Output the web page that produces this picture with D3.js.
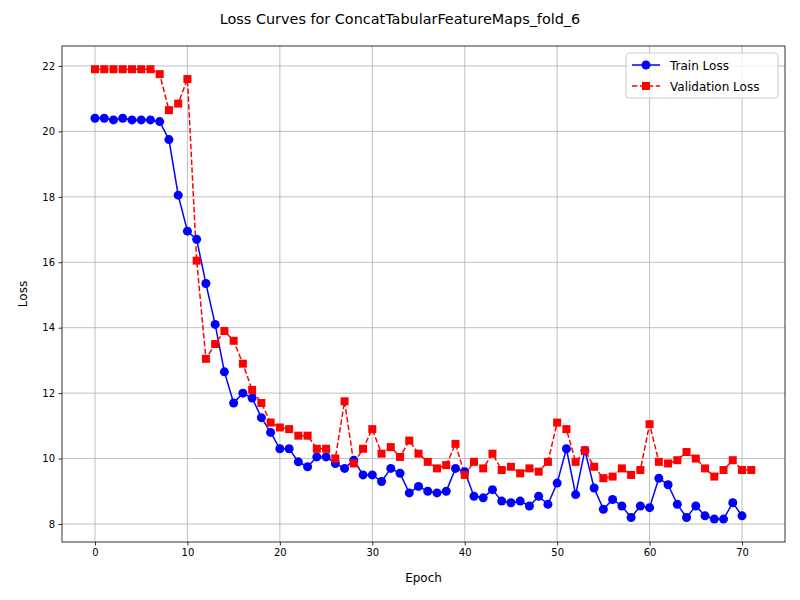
<!DOCTYPE html>
<html><head><meta charset="utf-8">
<script src="https://cdn.jsdelivr.net/npm/d3@7"></script>
<style>body{margin:0;background:#fff}text{font-family:"DejaVu Sans",sans-serif}</style>
</head><body><svg id="c" width="800" height="600"></svg>
<script>
const trainLoss=[20.4,20.4,20.35,20.4,20.35,20.35,20.35,20.3,19.75,18.05,16.95,16.7,15.35,14.1,12.65,11.7,12.0,11.85,11.25,10.8,10.3,10.3,9.9,9.75,10.05,10.05,9.85,9.7,9.95,9.5,9.5,9.3,9.7,9.55,8.95,9.15,9.0,8.95,9.0,9.7,9.6,8.85,8.8,9.05,8.7,8.65,8.7,8.55,8.85,8.6,9.25,10.3,8.9,10.25,9.1,8.45,8.75,8.55,8.2,8.55,8.5,9.4,9.2,8.6,8.2,8.55,8.25,8.15,8.15,8.65,8.25];
const valLoss=[21.9,21.9,21.9,21.9,21.9,21.9,21.9,21.75,20.65,20.85,21.6,16.05,13.05,13.5,13.9,13.6,12.9,12.1,11.7,11.1,10.95,10.9,10.7,10.7,10.3,10.3,10.0,11.75,9.85,10.3,10.9,10.15,10.35,10.05,10.55,10.15,9.9,9.7,9.8,10.45,9.5,9.9,9.7,10.15,9.65,9.75,9.55,9.7,9.6,9.9,11.1,10.9,9.9,10.25,9.75,9.4,9.45,9.7,9.5,9.65,11.05,9.9,9.85,9.95,10.2,10.0,9.7,9.45,9.65,9.95,9.65,9.65];
const xTicks=[0,10,20,30,40,50,60,70];
const yTicks=[8,10,12,14,16,18,20,22];
const L=62,R=785,T=46,B=542;
const svg=d3.select("#c");
const x=d3.scaleLinear().domain([-3.57,74.65]).range([L,R]);
const y=d3.scaleLinear().domain([7.45,22.61]).range([B,T]);
const g=svg.append("g");
xTicks.forEach(t=>g.append("line").attr("x1",x(t)).attr("x2",x(t)).attr("y1",T).attr("y2",B).attr("stroke","#b0b0b0").attr("stroke-width",0.8));
yTicks.forEach(t=>g.append("line").attr("x1",L).attr("x2",R).attr("y1",y(t)).attr("y2",y(t)).attr("stroke","#b0b0b0").attr("stroke-width",0.8));
const xa=svg.append("g").attr("transform",`translate(0,${B})`).call(d3.axisBottom(x).tickValues(xTicks).tickSize(3.5).tickPadding(3.5).tickFormat(d3.format("d")));
const ya=svg.append("g").attr("transform",`translate(${L},0)`).call(d3.axisLeft(y).tickValues(yTicks).tickSize(3.5).tickPadding(3.5).tickFormat(d3.format("d")));
[xa,ya].forEach(a=>{a.select(".domain").remove();a.selectAll("text").attr("font-size",10).attr("fill","#000").style("font-family","DejaVu Sans");a.selectAll("line").attr("stroke","#000").attr("stroke-width",0.8);});
svg.append("rect").attr("x",L).attr("y",T).attr("width",R-L).attr("height",B-T).attr("fill","none").attr("stroke","#000").attr("stroke-width",0.8);
const line=d3.line().x((d,i)=>x(i)).y(d=>y(d));
svg.append("path").attr("d",line(trainLoss)).attr("fill","none").attr("stroke","blue").attr("stroke-width",1.5);
svg.append("path").attr("d",line(valLoss)).attr("fill","none").attr("stroke","red").attr("stroke-width",1.5).attr("stroke-dasharray","5.5,2.4");
svg.selectAll(".tp").data(trainLoss).enter().append("circle").attr("cx",(d,i)=>x(i)).attr("cy",d=>y(d)).attr("r",4.5).attr("fill","blue");
svg.selectAll(".vp").data(valLoss).enter().append("rect").attr("x",(d,i)=>x(i)-4).attr("y",d=>y(d)-4).attr("width",8).attr("height",8).attr("fill","red");
svg.append("text").attr("x",400).attr("y",24).attr("text-anchor","middle").attr("font-size",14.4).text("Loss Curves for ConcatTabularFeatureMaps_fold_6");
svg.append("text").attr("x",(L+R)/2).attr("y",582).attr("text-anchor","middle").attr("font-size",12).text("Epoch");
svg.append("text").attr("transform",`translate(27,${(T+B)/2}) rotate(-90)`).attr("text-anchor","middle").attr("font-size",12).text("Loss");
const lg=svg.append("g").attr("transform","translate(626,53)");
lg.append("rect").attr("width",152).attr("height",45).attr("rx",3).attr("fill","#fff").attr("fill-opacity",0.8).attr("stroke","#ccc");
lg.append("line").attr("x1",6).attr("x2",34).attr("y1",12).attr("y2",12).attr("stroke","blue").attr("stroke-width",1.5);
lg.append("circle").attr("cx",20).attr("cy",12).attr("r",4.5).attr("fill","blue");
lg.append("text").attr("x",44).attr("y",16.5).attr("font-size",12).text("Train Loss");
lg.append("line").attr("x1",6).attr("x2",34).attr("y1",33).attr("y2",33).attr("stroke","red").attr("stroke-width",1.5).attr("stroke-dasharray","5.5,2.4");
lg.append("rect").attr("x",16).attr("y",29).attr("width",8).attr("height",8).attr("fill","red");
lg.append("text").attr("x",44).attr("y",37.5).attr("font-size",12).text("Validation Loss");
</script></body></html>
